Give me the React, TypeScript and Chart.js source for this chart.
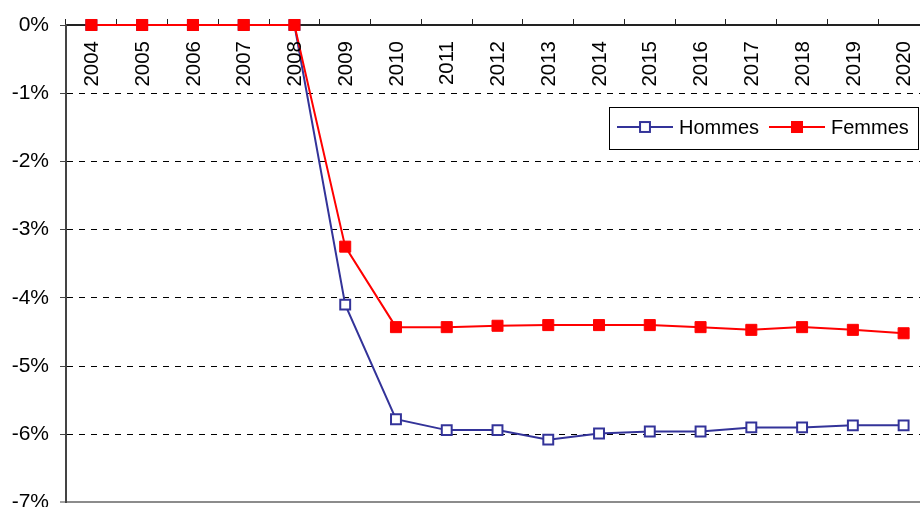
import React, { useEffect, useRef } from "react";
import { Chart, registerables } from "chart.js";

Chart.register(...registerables);

const years = ["2004", "2005", "2006", "2007", "2008", "2009", "2010", "2011", "2012", "2013", "2014", "2015", "2016", "2017", "2018", "2019", "2020"];
const hommes = [0, 0, 0, 0, 0, -4.1, -5.78, -5.94, -5.94, -6.08, -5.99, -5.96, -5.96, -5.9, -5.9, -5.87, -5.87];
const femmes = [0, 0, 0, 0, 0, -3.25, -4.43, -4.43, -4.41, -4.4, -4.4, -4.4, -4.43, -4.47, -4.43, -4.47, -4.52];
const yMin = -7;
const yMax = 0;
const yStep = 1;

const FONT = "'Liberation Sans', Arial, sans-serif";

const xLabelsPlugin = {
  id: "xLabelsTop",
  afterDraw(chart: any) {
    const ctx = chart.ctx;
    const xs = chart.scales.x;
    const top = chart.chartArea.top;
    ctx.save();
    ctx.fillStyle = "#000";
    ctx.font = `20.5px ${FONT}`;
    ctx.textAlign = "right";
    ctx.textBaseline = "middle";
    (chart.data.labels as string[]).forEach((lab, i) => {
      const x = xs.getPixelForValue(i);
      ctx.save();
      ctx.translate(x + 1, top + 16);
      ctx.rotate(-Math.PI / 2);
      ctx.fillText(lab, 0, 0);
      ctx.restore();
    });
    ctx.restore();
  },
};

const legendPlugin = {
  id: "boxLegend",
  afterDraw(chart: any) {
    const ctx = chart.ctx;
    const bx = 609.5, by = 107.5, bw = 309, bh = 42;
    ctx.save();
    ctx.fillStyle = "#fff";
    ctx.fillRect(bx, by, bw, bh);
    ctx.strokeStyle = "#000";
    ctx.lineWidth = 1;
    ctx.strokeRect(bx, by, bw, bh);
    const items = [
      { ds: chart.data.datasets[0], x0: 617, x1: 673, tx: 679 },
      { ds: chart.data.datasets[1], x0: 769, x1: 825, tx: 831 },
    ];
    const cy = 127;
    items.forEach(({ ds, x0, x1, tx }) => {
      ctx.strokeStyle = ds.borderColor;
      ctx.lineWidth = 2;
      ctx.beginPath();
      ctx.moveTo(x0, cy);
      ctx.lineTo(x1, cy);
      ctx.stroke();
      const mx = (x0 + x1) / 2;
      const s = ds.pointRadius * Math.SQRT1_2;
      ctx.fillStyle = ds.pointBackgroundColor;
      ctx.fillRect(mx - s, cy - s, 2 * s, 2 * s);
      ctx.strokeStyle = ds.pointBorderColor;
      ctx.lineWidth = ds.pointBorderWidth;
      ctx.strokeRect(mx - s, cy - s, 2 * s, 2 * s);
      ctx.fillStyle = "#000";
      ctx.font = `20px ${FONT}`;
      ctx.textAlign = "left";
      ctx.textBaseline = "middle";
      ctx.fillText(ds.label, tx, cy + 1);
    });
    ctx.restore();
  },
};

export default function App() {
  const ref = useRef<HTMLCanvasElement>(null);
  useEffect(() => {
    if (!ref.current) return;
    const chart = new Chart(ref.current, {
      type: "line",
      data: {
        labels: years,
        datasets: [
          {
            label: "Hommes",
            data: hommes,
            borderColor: "#333399",
            borderWidth: 2,
            pointStyle: "rect",
            pointRadius: 7,
            pointBackgroundColor: "#ffffff",
            pointBorderColor: "#333399",
            pointBorderWidth: 2,
            tension: 0,
            order: 1,
            clip: false,
          } as any,
          {
            label: "Femmes",
            data: femmes,
            borderColor: "#ff0000",
            borderWidth: 2,
            pointStyle: "rect",
            pointRadius: 7.8,
            pointBackgroundColor: "#ff0000",
            pointBorderColor: "#ff0000",
            pointBorderWidth: 1,
            tension: 0,
            order: 0,
            clip: false,
          } as any,
        ],
      },
      options: {
        responsive: false,
        animation: false,
        devicePixelRatio: 1,
        layout: { padding: { left: 0, right: 11, top: 0, bottom: 19 } },
        plugins: { legend: { display: false }, tooltip: { enabled: false } },
        scales: {
          x: {
            type: "category",
            position: "top",
            offset: true,
            afterFit: (s: any) => {
              s.height = 25;
            },
            ticks: { display: false },
            grid: {
              display: true,
              offset: true,
              drawOnChartArea: false,
              drawTicks: true,
              tickLength: 6,
              tickColor: "#222",
              tickWidth: 1,
            },
            border: { display: true, color: "#222", width: 2 },
          },
          y: {
            min: yMin,
            max: yMax,
            afterFit: (s: any) => {
              s.width = 66;
            },
            ticks: {
              stepSize: yStep,
              padding: 11,
              color: "#000",
              font: { family: FONT, size: 21 },
              callback: (v: any) => `${v}%`,
            },
            grid: {
              color: (c: any) => {
                const v = c.tick ? c.tick.value : null;
                if (v === 0) return "rgba(0,0,0,0)";
                if (v === -7) return "#8c8c8c";
                return "#000";
              },
              lineWidth: (c: any) => (c.tick && c.tick.value === -7 ? 2 : 1),
              tickLength: 6,
              tickColor: "#444",
              tickWidth: 1,
            },
            border: {
              display: true,
              color: "#444",
              width: 2,
              dash: (c: any) => (c.tick && c.tick.value === -7 ? [] : [6, 6]),
            } as any,
          },
        },
      },
      plugins: [xLabelsPlugin, legendPlugin],
    });
    return () => chart.destroy();
  }, []);
  return (
    <div
      style={{
        position: "fixed",
        left: 0,
        top: 0,
        width: 920,
        height: 507,
        overflow: "hidden",
        background: "#fff",
      }}
    >
      <canvas ref={ref} width={940} height={526} style={{ display: "block" }} />
    </div>
  );
}
